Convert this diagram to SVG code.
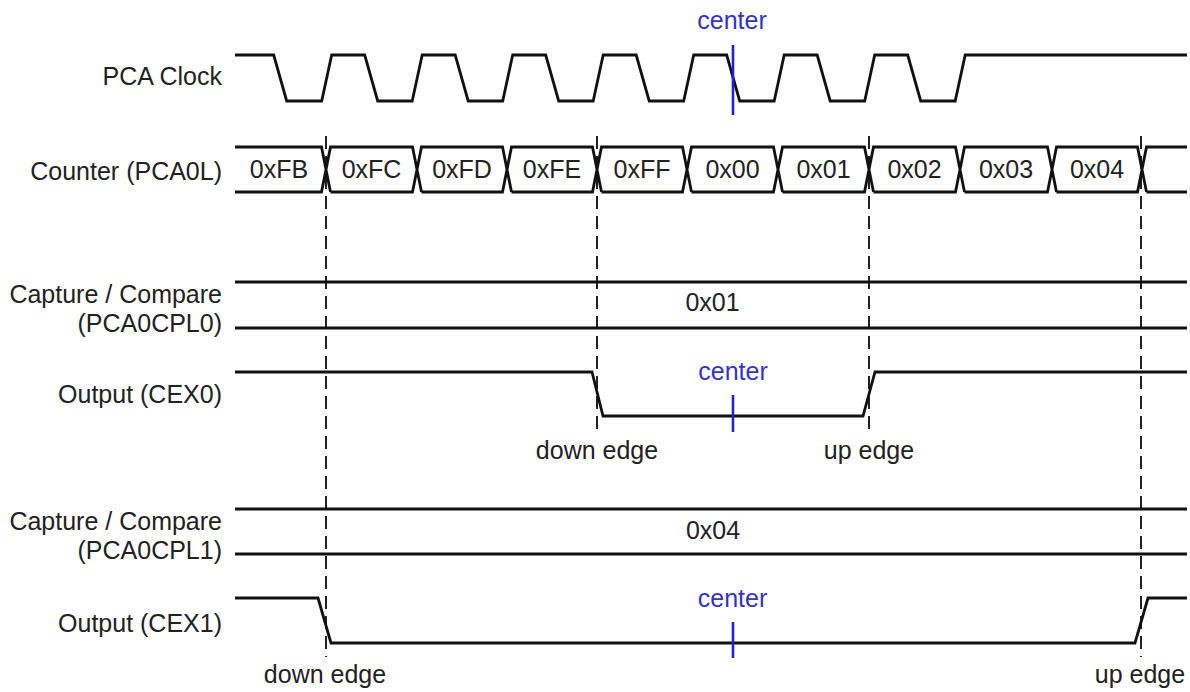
<svg xmlns="http://www.w3.org/2000/svg" width="1190" height="692" viewBox="0 0 1190 692">
<style>
.sig{fill:none;stroke:#111;stroke-width:2.8;stroke-linejoin:miter}
.t{font-family:"Liberation Sans",Arial,sans-serif;font-size:25px;fill:#222}
.lbl{text-anchor:end}
.mid{text-anchor:middle}
.blue{fill:#3333cc}
.tick{stroke:#2020e0;stroke-width:2.6}
.guide{stroke:#222;stroke-width:2;stroke-dasharray:13 7;fill:none}
</style>
<rect width="1190" height="692" fill="#fff"/>
<g id="guides">
<line class="guide" x1="326" y1="136" x2="326" y2="657"/>
<line class="guide" x1="597" y1="136" x2="597" y2="430"/>
<line class="guide" x1="869" y1="136" x2="869" y2="430"/>
<line class="guide" x1="1141" y1="136" x2="1141" y2="657"/>
</g>
<g id="clock">
<text class="t lbl" x="222" y="85">PCA Clock</text>
<path class="sig" d="M235,55 H273.7 L286.7,101 H321.7 L331.7,55 H364.7 L377.7,101 H412.2 L422.2,55 H455.2 L468.2,101 H502.7 L512.7,55 H545.7 L558.7,101 H593.2 L603.2,55 H636.2 L649.2,101 H683.7 L693.7,55 H726.7 L739.7,101 H774.2 L784.2,55 H817.2 L830.2,101 H864.7 L874.7,55 H907.7 L920.7,101 H955.2 L965.2,55 H1187"/>
<text class="t mid blue" x="732" y="29">center</text>
<line class="tick" x1="733" y1="45" x2="733" y2="115"/>
</g>
<g id="counter">
<text class="t lbl" x="222" y="180">Counter (PCA0L)</text>
<path class="sig" d="M235,147 H321.5 L330.5,192 M235,192 H321.5 L330.5,147 H412.5 L421.5,192 M330.5,192 H412.5 L421.5,147 H502.5 L511.5,192 M421.5,192 H502.5 L511.5,147 H592.5 L601.5,192 M511.5,192 H592.5 L601.5,147 H682.5 L691.5,192 M601.5,192 H682.5 L691.5,147 H773.5 L782.5,192 M691.5,192 H773.5 L782.5,147 H864.5 L873.5,192 M782.5,192 H864.5 L873.5,147 H955.5 L964.5,192 M873.5,192 H955.5 L964.5,147 H1047.5 L1056.5,192 M964.5,192 H1047.5 L1056.5,147 H1137.5 L1146.5,192 M1056.5,192 H1137.5 L1146.5,147 H1187 M1146.5,192 H1187"/>
<text class="t mid" x="279" y="178">0xFB</text>
<text class="t mid" x="371.5" y="178">0xFC</text>
<text class="t mid" x="462" y="178">0xFD</text>
<text class="t mid" x="552" y="178">0xFE</text>
<text class="t mid" x="642" y="178">0xFF</text>
<text class="t mid" x="732.5" y="178">0x00</text>
<text class="t mid" x="823.5" y="178">0x01</text>
<text class="t mid" x="914.5" y="178">0x02</text>
<text class="t mid" x="1006" y="178">0x03</text>
<text class="t mid" x="1097" y="178">0x04</text>
</g>
<g id="capture0">
<text class="t lbl" x="222" y="303">Capture / Compare</text>
<text class="t lbl" x="222" y="332">(PCA0CPL0)</text>
<path class="sig" d="M235,282 H1187 M235,328 H1187"/>
<text class="t mid" x="712.5" y="311">0x01</text>
</g>
<g id="output0">
<text class="t lbl" x="222" y="403">Output (CEX0)</text>
<path class="sig" d="M235,372 H592 L603,416 H863 L875,372 H1187"/>
<text class="t mid blue" x="733" y="380">center</text>
<line class="tick" x1="733" y1="395" x2="733" y2="432"/>
<text class="t mid" x="597" y="459">down edge</text>
<text class="t mid" x="869" y="459">up edge</text>
</g>
<g id="capture1">
<text class="t lbl" x="222" y="530">Capture / Compare</text>
<text class="t lbl" x="222" y="559">(PCA0CPL1)</text>
<path class="sig" d="M235,509 H1187 M235,554 H1187"/>
<text class="t mid" x="713" y="539">0x04</text>
</g>
<g id="output1">
<text class="t lbl" x="222" y="632">Output (CEX1)</text>
<path class="sig" d="M235,598 H318 L331,643 H1135 L1148,598 H1187"/>
<text class="t mid blue" x="732.5" y="607">center</text>
<line class="tick" x1="733" y1="622" x2="733" y2="658"/>
<text class="t mid" x="325" y="683">down edge</text>
<text class="t mid" x="1140" y="683">up edge</text>
</g>
</svg>
